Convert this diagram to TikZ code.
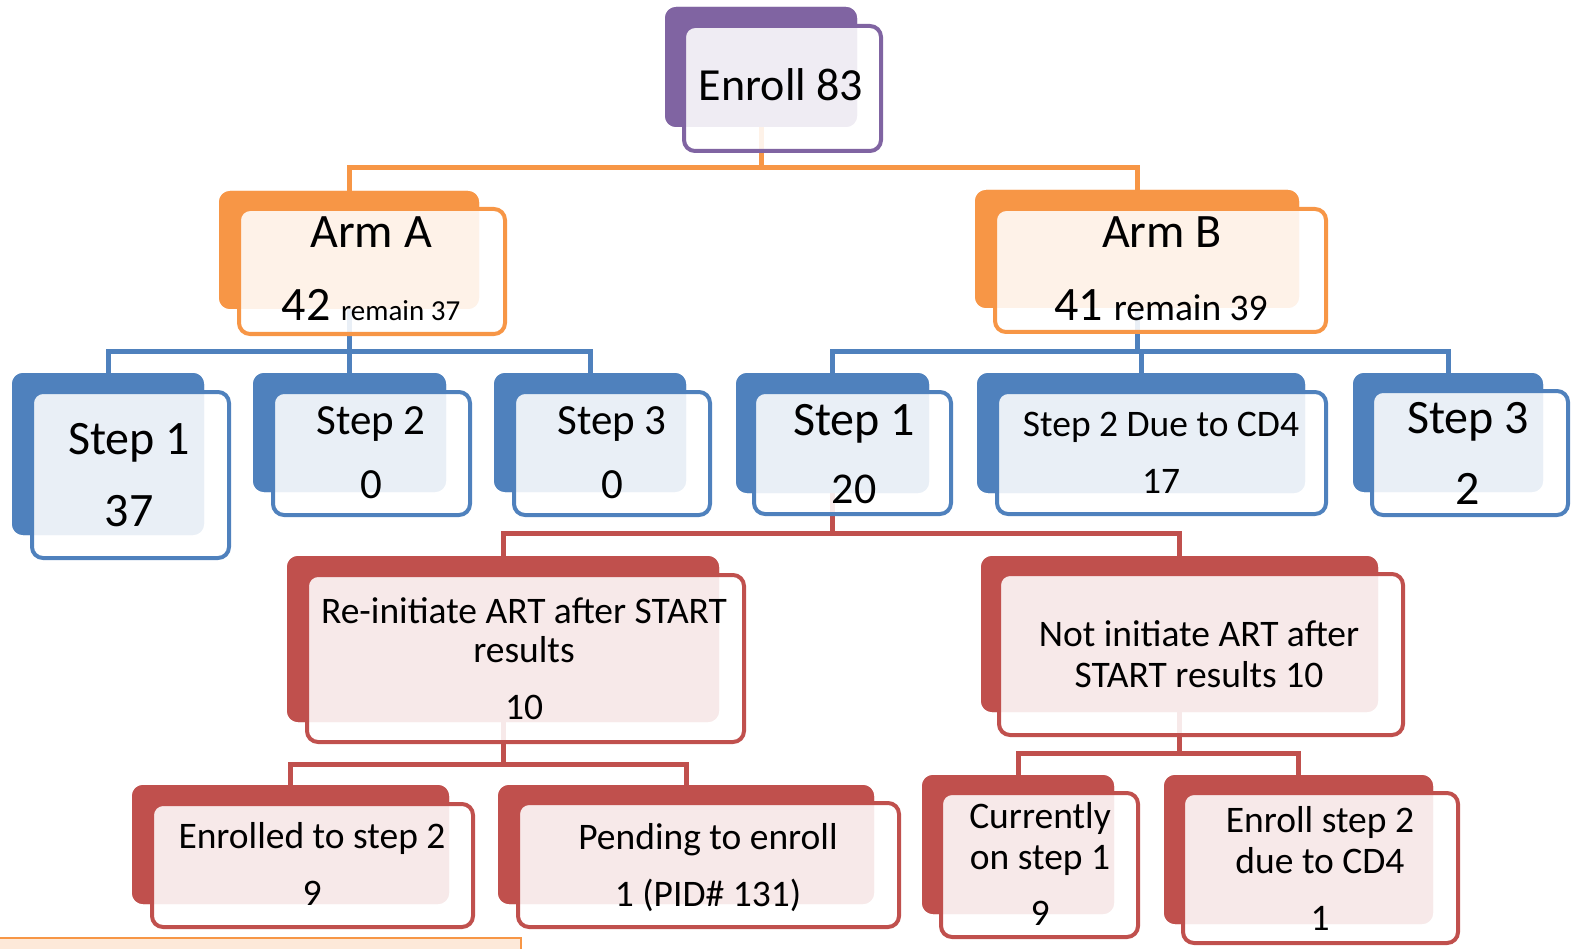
\documentclass[tikz,border=0pt]{standalone}
\usepackage{fontspec}
\setmainfont{Carlito}
\definecolor{cpurple}{HTML}{8064A2}
\definecolor{corange}{HTML}{F79646}
\definecolor{cblue}{HTML}{4F81BD}
\definecolor{cred}{HTML}{C0504D}
\definecolor{cpeach}{HTML}{FDE9D9}
\tikzset{
  backbox/.style={fill=#1, draw=none, rounded corners=11pt, anchor=north west, inner sep=0pt, outer sep=0pt},
  frontbox/.style={fill=white, fill opacity=0.88, draw=#1, draw opacity=1, line width=4pt, rounded corners=11pt, anchor=north west, inner sep=0pt, outer sep=0pt},
  conn/.style={draw=#1, line width=5pt},
  lbl/.style={anchor=base, inner sep=0pt, outer sep=0pt, text=black, align=center, font=\fontsize{#1}{#1}\selectfont},
}
\newcommand\bk[6]{\node[backbox=#2, minimum width={(#5)-(#3)}, minimum height={(#6)-(#4)}] (#1) at (#3,#4) {};}
\newcommand\fr[6]{\node[frontbox=#2, minimum width={(#5)-(#3)}, minimum height={(#6)-(#4)}] (#1) at (#3,#4) {};}
\begin{document}
\begin{tikzpicture}[x=1pt,y=-1pt]
\useasboundingbox (0,0) rectangle (1573,949);
% connector levels
\coordinate (h1) at (0,168);
\coordinate (h2) at (0,351);
\coordinate (h3) at (0,533);
\coordinate (h4) at (0,764);
\coordinate (h5) at (0,753);
% ---- back boxes
\bk{enrollb}{cpurple}{665}{7}{857}{127}
\bk{armAb}{corange}{219}{191}{479}{309}
\bk{armBb}{corange}{975}{190}{1299}{308}
\bk{sOneAb}{cblue}{12}{373}{204}{535}
\bk{sTwoAb}{cblue}{253}{373}{446}{492}
\bk{sThreeAb}{cblue}{494}{373}{686}{492}
\bk{sOneBb}{cblue}{736}{373}{929}{493}
\bk{sTwoBb}{cblue}{977}{373}{1305}{493}
\bk{sThreeBb}{cblue}{1353}{373}{1543}{492}
\bk{reb}{cred}{287}{556}{719}{722}
\bk{notb}{cred}{981}{556}{1378}{712}
\bk{enrb}{cred}{132}{785}{449}{904}
\bk{pendb}{cred}{498}{785}{874}{904}
\bk{currb}{cred}{922}{775}{1114}{914}
\bk{esb}{cred}{1164}{775}{1433}{924}
% ---- connectors
\draw[conn=corange] (enrollb.south) -- (enrollb.south |- h1) -| (armAb.north);
\draw[conn=corange] (enrollb.south) -- (enrollb.south |- h1) -| (armBb.north);
\draw[conn=cblue] (armAb.south) -- (armAb.south |- h2) -| (sOneAb.north);
\draw[conn=cblue] (armAb.south) -- (armAb.south |- h2) -| (sTwoAb.north);
\draw[conn=cblue] (armAb.south) -- (armAb.south |- h2) -| (sThreeAb.north);
\draw[conn=cblue] (armBb.south) -- (armBb.south |- h2) -| (sOneBb.north);
\draw[conn=cblue] (armBb.south) -- (armBb.south |- h2) -| (sTwoBb.north);
\draw[conn=cblue] (armBb.south) -- (armBb.south |- h2) -| (sThreeBb.north);
\draw[conn=cred] (sOneBb.south) -- (sOneBb.south |- h3) -| (reb.north);
\draw[conn=cred] (sOneBb.south) -- (sOneBb.south |- h3) -| (notb.north);
\draw[conn=cred] (reb.south) -- (reb.south |- h4) -| (enrb.north);
\draw[conn=cred] (reb.south) -- (reb.south |- h4) -| (pendb.north);
\draw[conn=cred] (notb.south) -- (notb.south |- h5) -| (currb.north);
\draw[conn=cred] (notb.south) -- (notb.south |- h5) -| (esb.north);
% redraw back boxes over connector ends
\bk{enrollbb}{cpurple}{665}{7}{857}{127}
\bk{armAbb}{corange}{219}{191}{479}{309}
\bk{armBbb}{corange}{975}{190}{1299}{308}
\bk{sOneAbb}{cblue}{12}{373}{204}{535}
\bk{sTwoAbb}{cblue}{253}{373}{446}{492}
\bk{sThreeAbb}{cblue}{494}{373}{686}{492}
\bk{sOneBbb}{cblue}{736}{373}{929}{493}
\bk{sTwoBbb}{cblue}{977}{373}{1305}{493}
\bk{sThreeBbb}{cblue}{1353}{373}{1543}{492}
\bk{rebb}{cred}{287}{556}{719}{722}
\bk{notbb}{cred}{981}{556}{1378}{712}
\bk{enrbb}{cred}{132}{785}{449}{904}
\bk{pendbb}{cred}{498}{785}{874}{904}
\bk{currbb}{cred}{922}{775}{1114}{914}
\bk{esbb}{cred}{1164}{775}{1433}{924}
% ---- front boxes
\fr{enrollf}{cpurple}{684}{26}{881}{151}
\fr{armAf}{corange}{239}{209}{505}{334}
\fr{armBf}{corange}{995}{209}{1326}{332}
\fr{sOneAf}{cblue}{32}{392}{229}{558}
\fr{sTwoAf}{cblue}{273}{392}{470}{515}
\fr{sThreeAf}{cblue}{514}{392}{710}{515}
\fr{sOneBf}{cblue}{754}{392}{951}{514}
\fr{sTwoBf}{cblue}{997}{392}{1326}{514}
\fr{sThreeBf}{cblue}{1372}{391}{1568}{515}
\fr{ref}{cred}{307}{575}{744}{742}
\fr{notf}{cred}{999}{574}{1403}{735}
\fr{enrf}{cred}{152}{804}{473}{927}
\fr{pendf}{cred}{518}{803}{899}{927}
\fr{currf}{cred}{941}{793}{1138}{937}
\fr{esf}{cred}{1183}{793}{1458}{943}
% ---- bottom strip
\node[fill=cpeach, draw=corange, line width=1.5pt, anchor=north west, inner sep=0pt, minimum width=530pt, minimum height=30pt] (strip) at (-10,937) {};
% ---- labels
\node[lbl=46] (tEnroll) at (781,101) {Enroll 83};
\node[lbl=48] (tArmA) at (371,248) {Arm A};
\node[lbl=48] (tArmAn) at (371,321) {42 {\fontsize{29}{29}\selectfont remain 37}};
\node[lbl=48] (tArmB) at (1162,248) {Arm B};
\node[lbl=48] (tArmBn) at (1161,321) {41 {\fontsize{37.5}{37.5}\selectfont remain 39}};
\node[lbl=48] (tS1A) at (129,454) {Step 1};
\node[lbl=48] (tS1An) at (129,526) {37};
\node[lbl=43] (tS2A) at (371,434) {Step 2};
\node[lbl=43] (tS2An) at (371,498) {0};
\node[lbl=43] (tS3A) at (612,434) {Step 3};
\node[lbl=43] (tS3An) at (612,498) {0};
\node[lbl=48] (tS1B) at (854,435) {Step 1};
\node[lbl=44] (tS1Bn) at (854,503) {20};
\node[lbl=37.5] (tS2B) at (1161,436) {Step 2 Due to CD4};
\node[lbl=37.5] (tS2Bn) at (1161,493) {17};
\node[lbl=48] (tS3B) at (1468,433) {Step 3};
\node[lbl=48] (tS3Bn) at (1468,504) {2};
\node[lbl=37.5] (tRe1) at (524,623) {Re-initiate ART after START};
\node[lbl=37.5] (tRe2) at (524,662) {results};
\node[lbl=37.5] (tRe3) at (524,719) {10};
\node[lbl=37.5] (tNot1) at (1199,646) {Not initiate ART after};
\node[lbl=37.5] (tNot2) at (1199,687) {START results 10};
\node[lbl=37.5] (tEnr1) at (312,848) {Enrolled to step 2};
\node[lbl=37.5] (tEnr2) at (312,905) {9};
\node[lbl=37.5] (tPend1) at (708,849) {Pending to enroll};
\node[lbl=37.5] (tPend2) at (708,906) {1 (PID\# 131)};
\node[lbl=37.5] (tCur1) at (1040,828) {Currently};
\node[lbl=37.5] (tCur2) at (1040,869) {on step 1};
\node[lbl=37.5] (tCur3) at (1040,925) {9};
\node[lbl=37.5] (tEs1) at (1320,832) {Enroll step 2};
\node[lbl=37.5] (tEs2) at (1320,873) {due to CD4};
\node[lbl=37.5] (tEs3) at (1320,930) {1};
\end{tikzpicture}
\end{document}
